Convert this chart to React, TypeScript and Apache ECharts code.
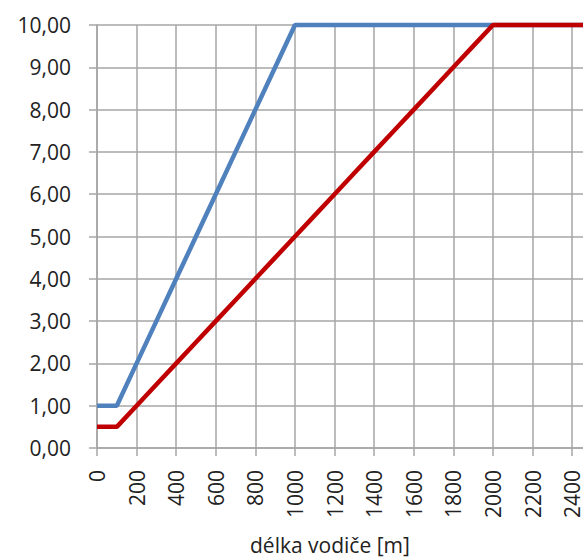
import React, { useEffect, useRef } from "react";
import * as echarts from "echarts";

const lengths = [0, 100, 200, 300, 400, 500, 600, 700, 800, 900, 1000, 1100, 1200, 1300, 1400, 1500, 1600, 1700, 1800, 1900, 2000, 2100, 2200, 2300, 2400, 2500];
const blueValues = [1.0, 1.0, 2.0, 3.0, 4.0, 5.0, 6.0, 7.0, 8.0, 9.0, 10.0, 10.0, 10.0, 10.0, 10.0, 10.0, 10.0, 10.0, 10.0, 10.0, 10.0, 10.0, 10.0, 10.0, 10.0, 10.0];
const redValues = [0.5, 0.5, 1.0, 1.5, 2.0, 2.5, 3.0, 3.5, 4.0, 4.5, 5.0, 5.5, 6.0, 6.5, 7.0, 7.5, 8.0, 8.5, 9.0, 9.5, 10.0, 10.0, 10.0, 10.0, 10.0, 10.0];
const xAxisTitle = "délka vodiče [m]";

const FONT = "'Open Sans', 'Noto Sans', sans-serif";
const TEXT = "#222222";
const GRID = "#a6a6a6";

export default function App() {
  const ref = useRef<HTMLDivElement>(null);
  useEffect(() => {
    if (!ref.current) return;
    const chart = echarts.init(ref.current, null, { renderer: "svg" });
    chart.setOption({
      animation: false,
      textStyle: { fontFamily: FONT },
      grid: { left: 97, top: 25, bottom: 112, right: 0, containLabel: false },
      xAxis: {
        type: "value",
        min: 0,
        max: 2455,
        interval: 200,
        axisLine: { show: true, onZero: false, lineStyle: { color: GRID, width: 1.5 } },
        axisTick: { show: true, length: 8, lineStyle: { color: GRID, width: 1.5 } },
        splitLine: { show: true, showMaxLine: false, lineStyle: { color: GRID, width: 1.5 } },
        axisLabel: {
          rotate: 90,
          margin: 22,
          color: TEXT,
          fontSize: 21,
          lineHeight: 16,
          fontFamily: FONT,
          showMaxLabel: false,
          formatter: (v: number) => (v % 200 === 0 ? String(v) : ""),
        },
      },
      yAxis: {
        type: "value",
        min: 0,
        max: 10,
        interval: 1,
        axisLine: { show: true, lineStyle: { color: GRID, width: 1.5 } },
        axisTick: { show: true, length: 8, lineStyle: { color: GRID, width: 1.5 } },
        splitLine: { show: true, lineStyle: { color: GRID, width: 1.5 } },
        axisLabel: {
          margin: 26,
          color: TEXT,
          fontSize: 21,
          fontFamily: FONT,
          formatter: (v: number) => v.toFixed(2).replace(".", ","),
        },
      },
      graphic: [
        {
          type: "text",
          left: 250,
          top: 534,
          style: { text: xAxisTitle, fill: TEXT, font: `21px ${FONT}` },
        },
      ],
      series: [
        {
          type: "line",
          data: lengths.map((x, i) => [x, blueValues[i]]),
          showSymbol: false,
          clip: false,
          lineStyle: { color: "#4f81bd", width: 4.5 },
          itemStyle: { color: "#4f81bd" },
        },
        {
          type: "line",
          data: lengths.map((x, i) => [x, redValues[i]]),
          showSymbol: false,
          clip: false,
          lineStyle: { color: "#c00000", width: 4.5 },
          itemStyle: { color: "#c00000" },
        },
      ],
    });
    return () => chart.dispose();
  }, []);
  return (
    <div style={{ width: 583, height: 560, position: "absolute", left: 0, top: 0, overflow: "hidden" }}>
      <div ref={ref} style={{ width: 583, height: 560 }} />
    </div>
  );
}
